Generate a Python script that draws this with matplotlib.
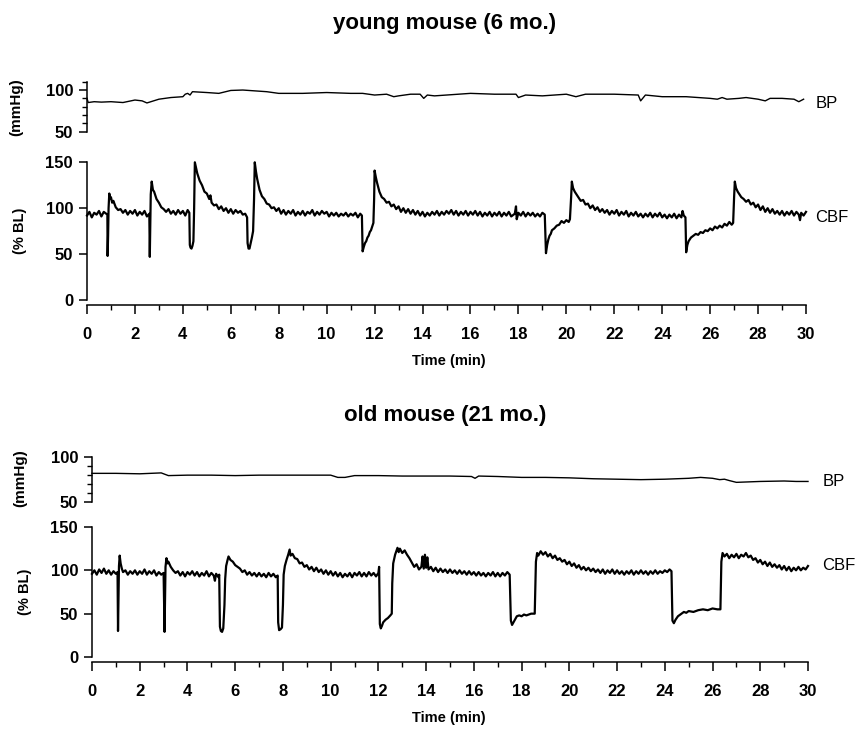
import numpy as np
import matplotlib
matplotlib.use("Agg")
import matplotlib.pyplot as plt
from matplotlib.ticker import MultipleLocator

plt.rcParams['font.family'] = ['Liberation Sans', 'DejaVu Sans']

# ---- data: (time in min, value) ----
young_bp = [(0.0, 90), (0.05, 85), (0.3, 86), (0.6, 85.5), (1.0, 86), (1.5, 85), (2.0, 88),
            (2.3, 87), (2.5, 84.5), (3.0, 89), (3.5, 91), (4.0, 92), (4.1, 95), (4.2, 96),
            (4.3, 94), (4.4, 98), (5.0, 97), (5.5, 96), (6.0, 99.5), (6.5, 100), (7.0, 99),
            (7.5, 98), (8.0, 96), (9.0, 96), (10.0, 97), (11.0, 96), (11.5, 96), (12.0, 94),
            (12.5, 95), (12.8, 92), (13.0, 93), (13.5, 95), (13.9, 95), (14.05, 90), (14.2, 94),
            (14.5, 93), (15.0, 94), (15.5, 95), (16.0, 96), (17.0, 95), (17.9, 95), (18.0, 91),
            (18.3, 94), (19.0, 93), (19.5, 94), (20.0, 95), (20.4, 92), (20.8, 95), (22.0, 95),
            (23.0, 94), (23.1, 87), (23.3, 94), (24.0, 92), (25.0, 92), (26.0, 90), (26.3, 89),
            (26.5, 91), (26.7, 89), (27.2, 90), (27.5, 91), (28.0, 89), (28.3, 87), (28.5, 90),
            (29.0, 90), (29.5, 89), (29.7, 86), (29.9, 89)]

young_cbf = [
    (0.0, 92), (0.1, 96), (0.2, 90), (0.3, 95), (0.4, 93), (0.5, 97), (0.6, 91), (0.7, 96),
    (0.8, 94), (0.85, 93),
    (0.86, 48), (0.88, 70), (0.9, 100), (0.93, 116), (0.97, 110), (1.0, 112), (1.05, 106),
    (1.1, 108), (1.2, 101), (1.3, 98), (1.4, 99), (1.5, 95), (1.6, 98), (1.7, 93), (1.8, 97),
    (1.9, 94), (2.0, 98), (2.1, 92), (2.2, 96), (2.3, 93), (2.4, 97), (2.5, 91), (2.6, 94),
    (2.62, 47), (2.64, 80), (2.66, 115), (2.7, 129), (2.75, 120), (2.8, 118), (2.9, 110),
    (3.0, 106), (3.1, 101), (3.2, 99), (3.3, 96), (3.4, 99), (3.5, 94), (3.6, 97), (3.7, 93),
    (3.8, 98), (3.9, 94), (4.0, 97), (4.1, 92), (4.2, 98), (4.27, 95),
    (4.29, 60), (4.32, 57), (4.36, 56), (4.4, 59), (4.44, 64), (4.47, 100), (4.5, 150),
    (4.55, 144), (4.6, 138), (4.7, 130), (4.8, 125), (4.9, 118), (5.0, 116), (5.1, 110),
    (5.15, 114), (5.2, 106), (5.3, 103), (5.4, 104), (5.5, 99), (5.6, 102), (5.7, 97),
    (5.8, 100), (5.9, 95), (6.0, 99), (6.1, 94), (6.2, 98), (6.3, 95), (6.4, 97), (6.5, 93),
    (6.6, 94), (6.68, 90),
    (6.7, 62), (6.74, 56), (6.78, 56), (6.83, 62), (6.88, 68), (6.93, 75), (6.97, 110),
    (7.0, 150), (7.05, 140), (7.1, 132), (7.2, 120), (7.3, 113), (7.4, 110), (7.5, 105),
    (7.6, 104), (7.7, 100), (7.8, 101), (7.9, 97), (8.0, 100), (8.1, 94), (8.2, 98), (8.3, 93),
    (8.4, 97), (8.5, 94), (8.6, 98), (8.7, 92), (8.8, 96), (8.9, 93), (9.0, 97), (9.1, 92),
    (9.2, 96), (9.3, 94), (9.4, 98), (9.5, 92), (9.6, 96), (9.7, 93), (9.8, 97), (9.9, 94),
    (10.0, 96), (10.1, 91), (10.2, 95), (10.3, 92), (10.4, 95), (10.5, 91), (10.6, 94),
    (10.7, 92), (10.8, 95), (10.9, 91), (11.0, 94), (11.1, 92), (11.2, 95), (11.3, 90),
    (11.4, 94), (11.47, 92),
    (11.5, 53), (11.55, 58), (11.6, 62), (11.65, 64), (11.7, 68), (11.75, 70), (11.8, 74),
    (11.85, 76), (11.9, 80), (11.95, 84), (11.98, 110), (12.0, 141), (12.05, 134), (12.1, 128),
    (12.2, 118), (12.3, 112), (12.4, 110), (12.5, 106), (12.6, 107), (12.7, 102), (12.8, 104),
    (12.9, 99), (13.0, 102), (13.1, 96), (13.2, 100), (13.3, 95), (13.4, 99), (13.5, 94),
    (13.6, 98), (13.7, 93), (13.8, 97), (13.9, 92), (14.0, 96), (14.1, 91), (14.2, 95),
    (14.3, 92), (14.4, 96), (14.5, 93), (14.6, 97), (14.7, 92), (14.8, 96), (14.9, 93),
    (15.0, 97), (15.1, 94), (15.2, 98), (15.3, 93), (15.4, 97), (15.5, 92), (15.6, 96),
    (15.7, 93), (15.8, 97), (15.9, 92), (16.0, 96), (16.1, 93), (16.2, 97), (16.3, 92),
    (16.4, 96), (16.5, 91), (16.6, 95), (16.7, 92), (16.8, 96), (16.9, 91), (17.0, 95),
    (17.1, 92), (17.2, 96), (17.3, 91), (17.4, 95), (17.5, 92), (17.6, 96), (17.7, 91),
    (17.85, 94), (17.9, 102), (17.93, 88), (18.0, 95), (18.1, 92), (18.2, 96), (18.3, 91),
    (18.4, 95), (18.5, 92), (18.6, 95), (18.7, 91), (18.8, 94), (18.9, 91), (19.0, 95),
    (19.1, 93),
    (19.15, 51), (19.2, 60), (19.25, 66), (19.3, 70), (19.35, 72), (19.4, 76), (19.5, 78),
    (19.6, 81), (19.7, 82), (19.8, 86), (19.9, 84), (20.0, 87), (20.1, 85), (20.15, 88),
    (20.2, 112), (20.23, 129), (20.28, 122), (20.35, 118), (20.4, 116), (20.5, 112),
    (20.6, 108), (20.7, 109), (20.8, 104), (20.9, 105), (21.0, 100), (21.1, 103), (21.2, 98),
    (21.3, 101), (21.4, 96), (21.5, 99), (21.6, 95), (21.7, 98), (21.8, 93), (21.9, 97),
    (22.0, 94), (22.1, 98), (22.2, 92), (22.3, 96), (22.4, 93), (22.5, 97), (22.6, 91),
    (22.7, 95), (22.8, 92), (22.9, 96), (23.0, 91), (23.1, 94), (23.2, 90), (23.3, 94),
    (23.4, 91), (23.5, 95), (23.6, 90), (23.7, 94), (23.8, 91), (23.9, 95), (24.0, 90),
    (24.1, 93), (24.2, 89), (24.3, 93), (24.4, 90), (24.5, 94), (24.6, 89), (24.7, 93),
    (24.8, 90), (24.85, 97), (24.9, 92), (24.97, 90),
    (25.0, 52), (25.05, 60), (25.1, 64), (25.2, 68), (25.3, 70), (25.4, 72), (25.5, 71),
    (25.6, 74), (25.7, 73), (25.8, 76), (25.9, 75), (26.0, 78), (26.1, 76), (26.2, 80),
    (26.3, 78), (26.4, 81), (26.5, 79), (26.6, 83), (26.7, 81), (26.8, 85), (26.9, 82),
    (26.96, 84), (27.0, 112), (27.03, 129), (27.08, 122), (27.15, 118), (27.2, 116),
    (27.3, 112), (27.4, 110), (27.5, 107), (27.6, 109), (27.7, 104), (27.8, 106), (27.9, 101),
    (28.0, 104), (28.1, 98), (28.2, 102), (28.3, 96), (28.4, 100), (28.5, 95), (28.6, 99),
    (28.7, 94), (28.8, 97), (28.9, 93), (29.0, 97), (29.1, 92), (29.2, 96), (29.3, 93),
    (29.4, 97), (29.5, 92), (29.6, 96), (29.7, 93), (29.75, 87), (29.8, 95), (29.9, 92),
    (30.0, 96)]

old_bp = [(0.0, 81.5), (1.0, 81.5), (2.0, 81), (2.9, 82), (3.2, 79), (4.0, 79.5), (5.0, 79.5),
          (6.0, 79), (7.0, 79.5), (8.0, 79.5), (9.0, 79.5), (10.0, 79.5), (10.3, 77),
          (10.6, 77), (11.0, 79), (12.0, 79), (13.0, 78.5), (14.0, 78.5), (15.0, 78.5),
          (15.9, 78), (16.05, 76), (16.2, 78.5), (17.0, 78), (18.0, 77), (19.0, 77),
          (20.0, 76.5), (21.0, 75.5), (22.0, 75), (23.0, 74.5), (24.0, 75), (25.0, 76),
          (25.5, 77), (26.0, 76), (26.3, 74.5), (26.5, 75), (26.7, 73.5), (27.0, 71.5),
          (27.5, 72), (28.0, 72.5), (29.0, 73), (29.5, 72.5), (30.0, 72.5)]

old_cbf = [
    (0.0, 96), (0.1, 100), (0.2, 95), (0.3, 101), (0.4, 97), (0.5, 102), (0.6, 96), (0.7, 100),
    (0.8, 95), (0.9, 99), (1.0, 96), (1.07, 98),
    (1.09, 30), (1.11, 70), (1.13, 105), (1.16, 117), (1.2, 108), (1.25, 102), (1.3, 98),
    (1.4, 100), (1.5, 95), (1.6, 99), (1.7, 96), (1.8, 100), (1.9, 95), (2.0, 99), (2.1, 96),
    (2.2, 101), (2.3, 95), (2.4, 99), (2.5, 96), (2.6, 100), (2.7, 94), (2.8, 98), (2.9, 95),
    (3.0, 97),
    (3.04, 29), (3.06, 70), (3.08, 104), (3.12, 114), (3.17, 108), (3.2, 110), (3.3, 104),
    (3.4, 100), (3.5, 97), (3.6, 99), (3.7, 94), (3.8, 98), (3.9, 93), (4.0, 98), (4.1, 95),
    (4.2, 99), (4.3, 94), (4.4, 98), (4.5, 93), (4.6, 97), (4.7, 94), (4.8, 99), (4.9, 93),
    (5.0, 97), (5.1, 94), (5.15, 88), (5.2, 96), (5.3, 92), (5.33, 95),
    (5.36, 35), (5.4, 30), (5.45, 29), (5.5, 33), (5.55, 60), (5.58, 90), (5.62, 105),
    (5.68, 112), (5.72, 116), (5.8, 112), (5.9, 110), (6.0, 106), (6.1, 104), (6.2, 102),
    (6.3, 98), (6.4, 100), (6.5, 95), (6.6, 98), (6.7, 94), (6.8, 97), (6.9, 93), (7.0, 97),
    (7.1, 93), (7.2, 96), (7.3, 92), (7.4, 97), (7.5, 93), (7.6, 96), (7.7, 92), (7.78, 94),
    (7.8, 40), (7.84, 31), (7.9, 32), (7.96, 34), (8.0, 60), (8.03, 95), (8.08, 105),
    (8.15, 112), (8.22, 118), (8.28, 124), (8.32, 117), (8.4, 119), (8.5, 114), (8.6, 113),
    (8.7, 108), (8.8, 109), (8.9, 104), (9.0, 106), (9.1, 101), (9.2, 104), (9.3, 99),
    (9.4, 103), (9.5, 98), (9.6, 101), (9.7, 96), (9.8, 100), (9.9, 95), (10.0, 99),
    (10.1, 94), (10.2, 98), (10.3, 93), (10.4, 97), (10.5, 92), (10.6, 96), (10.7, 93),
    (10.8, 97), (10.9, 92), (11.0, 97), (11.1, 94), (11.2, 98), (11.3, 93), (11.4, 97),
    (11.5, 93), (11.6, 98), (11.7, 94), (11.8, 97), (11.9, 93), (12.0, 97), (12.03, 104),
    (12.06, 38), (12.1, 33), (12.15, 36), (12.2, 40), (12.3, 43), (12.4, 45), (12.5, 48),
    (12.56, 50), (12.58, 85), (12.62, 108), (12.7, 118), (12.8, 126), (12.85, 121),
    (12.9, 125), (13.0, 120), (13.1, 123), (13.2, 118), (13.3, 114), (13.4, 109), (13.5, 104),
    (13.6, 107), (13.7, 101), (13.8, 104), (13.85, 116), (13.9, 102), (13.95, 118),
    (14.0, 103), (14.05, 115), (14.1, 101), (14.2, 104), (14.3, 99), (14.4, 103), (14.5, 98),
    (14.6, 102), (14.7, 98), (14.8, 101), (14.9, 97), (15.0, 101), (15.1, 97), (15.2, 100),
    (15.3, 96), (15.4, 100), (15.5, 96), (15.6, 99), (15.7, 95), (15.8, 99), (15.9, 95),
    (16.0, 98), (16.1, 94), (16.2, 98), (16.3, 94), (16.4, 97), (16.5, 93), (16.6, 97),
    (16.7, 94), (16.8, 98), (16.9, 93), (17.0, 97), (17.1, 93), (17.2, 97), (17.3, 94),
    (17.4, 98), (17.5, 95),
    (17.55, 42), (17.6, 37), (17.7, 42), (17.8, 47), (17.9, 48), (18.0, 47), (18.1, 49),
    (18.2, 48), (18.3, 49), (18.4, 50), (18.55, 50), (18.6, 110), (18.65, 120), (18.7, 117),
    (18.8, 122), (18.9, 118), (19.0, 121), (19.1, 116), (19.2, 119), (19.3, 114), (19.4, 117),
    (19.5, 112), (19.6, 114), (19.7, 110), (19.8, 112), (19.9, 107), (20.0, 110), (20.1, 105),
    (20.2, 108), (20.3, 103), (20.4, 106), (20.5, 101), (20.6, 104), (20.7, 100), (20.8, 103),
    (20.9, 99), (21.0, 102), (21.1, 98), (21.2, 101), (21.3, 97), (21.4, 101), (21.5, 96),
    (21.6, 100), (21.7, 97), (21.8, 101), (21.9, 96), (22.0, 100), (22.1, 96), (22.2, 99),
    (22.3, 95), (22.4, 99), (22.5, 96), (22.6, 100), (22.7, 95), (22.8, 99), (22.9, 96),
    (23.0, 100), (23.1, 96), (23.2, 99), (23.3, 95), (23.4, 99), (23.5, 96), (23.6, 100),
    (23.7, 96), (23.8, 99), (23.9, 97), (24.0, 100), (24.1, 98), (24.2, 101), (24.28, 99),
    (24.32, 42), (24.38, 39), (24.45, 43), (24.55, 47), (24.7, 50), (24.8, 52), (24.9, 51),
    (25.0, 53), (25.2, 52), (25.4, 54), (25.6, 55), (25.8, 54), (26.0, 56), (26.2, 55),
    (26.33, 55), (26.37, 110), (26.42, 120), (26.5, 116), (26.6, 119), (26.7, 114),
    (26.8, 118), (26.9, 115), (27.0, 119), (27.1, 114), (27.2, 118), (27.3, 116), (27.4, 120),
    (27.5, 115), (27.6, 117), (27.7, 112), (27.8, 114), (27.9, 109), (28.0, 112), (28.1, 107),
    (28.2, 110), (28.3, 105), (28.4, 109), (28.5, 104), (28.6, 107), (28.7, 103), (28.8, 106),
    (28.9, 101), (29.0, 105), (29.1, 100), (29.2, 104), (29.3, 99), (29.4, 103), (29.5, 100),
    (29.6, 104), (29.7, 100), (29.8, 103), (29.9, 101), (30.0, 105)]

titles = ['young mouse (6 mo.)', 'old mouse (21 mo.)']
x_ticks = list(range(0, 31, 2))
cbf_ticks = [0, 50, 100, 150]

W, H = 858, 730


def frac(left, top, right, bottom):
    # pixel box -> figure fraction rect
    return [left / W, 1 - bottom / H, (right - left) / W, (bottom - top) / H]


def style_bp(ax, ylim):
    ax.set_xlim(0, 30)
    ax.set_ylim(*ylim)
    for s in ['top', 'right', 'bottom']:
        ax.spines[s].set_visible(False)
    ax.spines['left'].set_linewidth(1.1)
    ax.set_xticks([])
    ax.set_yticks([50, 100])
    ax.yaxis.set_minor_locator(MultipleLocator(10))
    ax.tick_params(axis='y', which='major', length=6, width=1.1, pad=4, labelsize=12)
    ax.tick_params(axis='y', which='minor', length=3.5, width=1.0)
    for lab in ax.get_yticklabels():
        lab.set_fontweight('bold')
    ax.patch.set_visible(False)


def style_cbf(ax):
    ax.set_xlim(0, 30)
    ax.set_ylim(0, 150)
    for s in ['top', 'right']:
        ax.spines[s].set_visible(False)
    ax.spines['bottom'].set_position(('outward', 3.6))
    ax.spines['left'].set_linewidth(1.1)
    ax.spines['bottom'].set_linewidth(1.1)
    ax.set_yticks(cbf_ticks)
    ax.set_xticks(x_ticks)
    ax.xaxis.set_minor_locator(MultipleLocator(1))
    ax.tick_params(axis='y', which='major', length=6, width=1.1, pad=4, labelsize=12)
    ax.tick_params(axis='x', which='major', length=6.5, width=1.1, pad=9, labelsize=12)
    ax.tick_params(axis='x', which='minor', length=3.5, width=1.0)
    for lab in ax.get_yticklabels() + ax.get_xticklabels():
        lab.set_fontweight('bold')
    ax.patch.set_visible(False)


fig = plt.figure(figsize=(W / 100, H / 100), dpi=100)

panels = [
    dict(bp=young_bp, cbf=young_cbf, title=titles[0], bp_lim=(50, 110),
         bp_box=(87, 81.7, 806, 131.7), cbf_box=(87, 162.3, 806, 300),
         title_y=24, xlabel_y=361, mm_xy=(16, 107), bl_xy=(20, 231),
         bp_lab=(30.4, 84), cbf_lab=(30.4, 90)),
    dict(bp=old_bp, cbf=old_cbf, title=titles[1], bp_lim=(50, 100),
         bp_box=(92, 456.7, 808, 501.7), cbf_box=(92, 527, 808, 657),
         title_y=415, xlabel_y=718, mm_xy=(20, 478), bl_xy=(25, 592),
         bp_lab=(30.6, 72), cbf_lab=(30.6, 105)),
]

for p in panels:
    ax_bp = fig.add_axes(frac(*p['bp_box']))
    ax_cbf = fig.add_axes(frac(*p['cbf_box']))
    style_bp(ax_bp, p['bp_lim'])
    style_cbf(ax_cbf)

    t, v = zip(*p['bp'])
    ax_bp.plot(t, v, color='black', lw=1.0, clip_on=False)
    t, v = zip(*p['cbf'])
    ax_cbf.plot(t, v, color='black', lw=1.6, clip_on=False)

    ax_bp.text(*p['bp_lab'], 'BP', fontsize=12, va='center', ha='left', clip_on=False)
    ax_cbf.text(*p['cbf_lab'], 'CBF', fontsize=12, va='center', ha='left', clip_on=False)

    fig.text(445 / W, 1 - p['title_y'] / H, p['title'], ha='center', va='center',
             fontsize=16, fontweight='bold')
    fig.text(449 / W, 1 - p['xlabel_y'] / H, 'Time (min)', ha='center', va='center',
             fontsize=10.5, fontweight='bold')
    fig.text(p['mm_xy'][0] / W, 1 - p['mm_xy'][1] / H, '(mmHg)', rotation=90,
             ha='center', va='center', fontsize=11, fontweight='bold')
    fig.text(p['bl_xy'][0] / W, 1 - p['bl_xy'][1] / H, '(% BL)', rotation=90,
             ha='center', va='center', fontsize=10.5, fontweight='bold')

fig.savefig('out.png', dpi=100, facecolor='white')
